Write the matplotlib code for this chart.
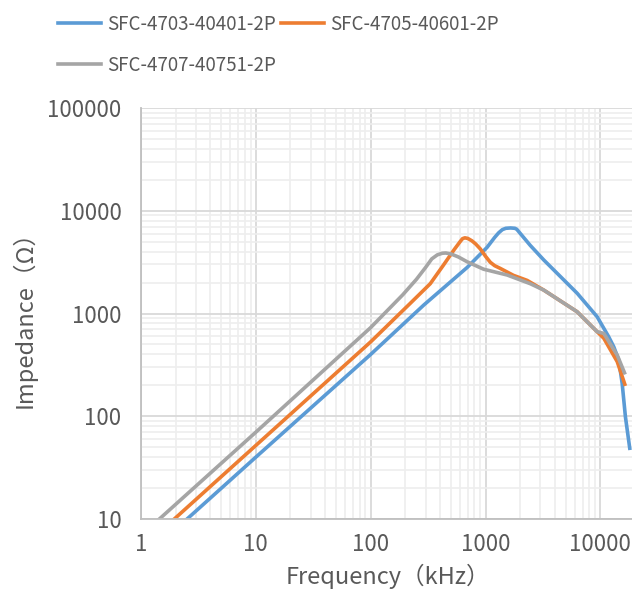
import matplotlib
matplotlib.use("Agg")
import matplotlib.pyplot as plt
from matplotlib.ticker import FixedLocator, NullFormatter, LogLocator

# impedance curves (freq in kHz, impedance in ohm)
blue_f = [1, 10, 100, 290, 690, 1030, 1200, 1300, 1400, 1500, 1650, 1800, 1870, 2450, 3210,
          6270, 9360, 11800, 13060, 14450, 15460, 16500, 18000]
blue_z = [3.95, 40, 400, 1210, 2800, 4400, 5500, 6100, 6550, 6750, 6800, 6750, 6600, 4600, 3320,
          1575, 930, 594, 475, 352, 209, 99, 48.8]

orange_f = [1, 10, 100, 220, 330, 430, 530, 600, 630, 660, 700, 760, 820, 900, 1000, 1100,
            1200, 1340, 1750, 2300, 3210, 6270, 9360, 10700, 14000, 16300]
orange_z = [5.1, 52, 530, 1250, 1950, 2960, 4150, 5000, 5350, 5450, 5380, 5100, 4750, 4250, 3600, 3150,
            2920, 2750, 2350, 2100, 1690, 1040, 665, 574, 340, 205]

gray_f = [1, 10, 100, 190, 250, 300, 340, 380, 420, 450, 500, 580, 690, 960, 1540, 2450, 3210,
          6270, 9360, 10700, 14000, 16200]
gray_z = [6.9, 70, 730, 1520, 2150, 2800, 3400, 3720, 3860, 3880, 3800, 3550, 3190, 2700, 2370, 1950, 1690,
          1040, 665, 640, 394, 265]

names = ["SFC-4703-40401-2P", "SFC-4705-40601-2P", "SFC-4707-40751-2P"]
colors = ["#5B9BD5", "#ED7D31", "#A5A5A5"]

y_ticks = [10, 100, 1000, 10000, 100000]
x_ticks = [1, 10, 100, 1000, 10000]

plt.rcParams['font.family'] = ['Noto Sans CJK JP', 'DejaVu Sans']
txt = "#595959"

fig = plt.figure(figsize=(6.32, 5.96), dpi=100)
ax = fig.add_axes([141/632, 77/596, 494/632, 411/596])

lines = []
for f, z, c, n in [(blue_f, blue_z, colors[0], names[0]),
                   (orange_f, orange_z, colors[1], names[1]),
                   (gray_f, gray_z, colors[2], names[2])]:
    l, = ax.plot(f, z, color=c, lw=2.6, label=n, solid_joinstyle='round')
    lines.append(l)

ax.set_xscale('log')
ax.set_yscale('log')
ax.set_xlim(1, 20000)
ax.set_ylim(10, 100000)

ax.xaxis.set_major_locator(FixedLocator(x_ticks))
ax.yaxis.set_major_locator(FixedLocator(y_ticks))
ax.set_xticklabels([str(v) for v in x_ticks])
ax.set_yticklabels([str(v) for v in y_ticks])
ax.xaxis.set_minor_locator(LogLocator(base=10, subs=range(2, 10), numticks=20))
ax.yaxis.set_minor_locator(LogLocator(base=10, subs=range(2, 10), numticks=20))
ax.xaxis.set_minor_formatter(NullFormatter())
ax.yaxis.set_minor_formatter(NullFormatter())

ax.grid(which='major', color='#d9d9d9', lw=1.3)
ax.grid(which='minor', color='#eeeeee', lw=1.2)
ax.set_axisbelow(True)

ax.tick_params(which='both', length=0)
ax.tick_params(axis='y', pad=14, labelsize=16, labelcolor=txt)
ax.tick_params(axis='x', pad=10, labelsize=16, labelcolor=txt)

for s in ['top', 'right']:
    ax.spines[s].set_visible(False)
for s in ['left', 'bottom']:
    ax.spines[s].set_color('#bfbfbf')
    ax.spines[s].set_linewidth(1.3)

ax.set_xlabel("Frequency（kHz）", fontsize=17, color=txt, labelpad=6)
ax.set_ylabel("Impedance（Ω）", fontsize=17, color=txt, labelpad=8)

# legend: two per row, gray on second row
fig.legend([lines[0], lines[2], lines[1]], [names[0], names[2], names[1]],
           ncol=2, loc='upper left', bbox_to_anchor=(58/632, 1 - 14/596),
           frameon=False, fontsize=13.5, labelcolor=txt, handlelength=2.3,
           handletextpad=0.3, columnspacing=0.3, labelspacing=1.05,
           borderpad=0, borderaxespad=0)

fig.savefig("out.png", dpi=100)
